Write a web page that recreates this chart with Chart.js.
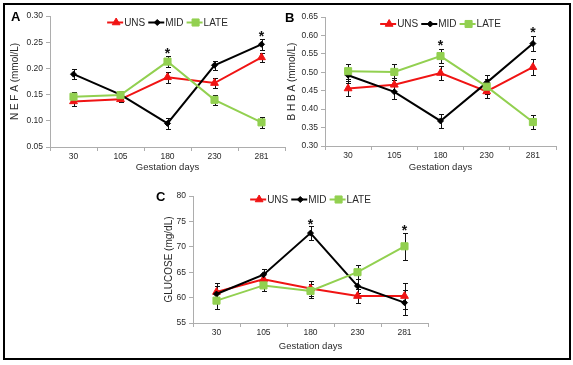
<!DOCTYPE html>
<html>
<head>
<meta charset="utf-8">
<script src="https://cdn.jsdelivr.net/npm/chart.js@4/dist/chart.umd.min.js"></script>
<style>
html, body { margin: 0; padding: 0; background: #fff; }
body { width: 573px; height: 365px; position: relative; overflow: hidden; font-family: "Liberation Sans", Arial, sans-serif; }
canvas { position: absolute; left: 0; top: 0; }
#frame { position: absolute; left: 3px; top: 3px; width: 564px; height: 353px; border: 2px solid #000; }
.tag { position: absolute; font-weight: bold; font-size: 13px; line-height: 13px; color: #000; }
</style>
</head>
<body>
<div id="frame"></div>
<canvas id="cA" width="573" height="365"></canvas>
<canvas id="cB" width="573" height="365"></canvas>
<canvas id="cC" width="573" height="365"></canvas>
<div class="tag" style="left:11px;top:10px">A</div>
<div class="tag" style="left:285px;top:11px">B</div>
<div class="tag" style="left:156px;top:190px">C</div>
<script>
var days = ["30", "105", "180", "230", "281"];

// NEFA (mmol/L)
var nefaUNS = [0.137, 0.141, 0.183, 0.172, 0.221];
var nefaMID = [0.189, 0.150, 0.095, 0.206, 0.246];
var nefaLATE = [0.146, 0.149, 0.213, 0.140, 0.097];
var nefaErrUNS = [0.009, 0.006, 0.010, 0.010, 0.008];
var nefaErrMID = [0.009, 0.007, 0.010, 0.009, 0.010];
var nefaErrLATE = [0.009, 0.007, 0.010, 0.010, 0.010];
var nefaStars = [null, null, 0.235, null, 0.268];
var nefaTicks = [0.05, 0.10, 0.15, 0.20, 0.25, 0.30];

// BHBA (mmol/L)
var bhbaUNS = [0.456, 0.466, 0.498, 0.448, 0.514];
var bhbaMID = [0.492, 0.447, 0.368, 0.472, 0.578];
var bhbaLATE = [0.503, 0.501, 0.544, 0.461, 0.365];
var bhbaErrUNS = [0.019, 0.018, 0.020, 0.018, 0.021];
var bhbaErrMID = [0.020, 0.020, 0.020, 0.020, 0.020];
var bhbaErrLATE = [0.020, 0.021, 0.019, 0.020, 0.020];
var bhbaStars = [null, null, 0.582, null, 0.618];
var bhbaTicks = [0.30, 0.35, 0.40, 0.45, 0.50, 0.55, 0.60, 0.65];

// Glucose (mg/dL)
var gluUNS = [61.1, 63.6, 61.8, 60.3, 60.3];
var gluMID = [60.7, 64.5, 72.7, 62.3, 59.0];
var gluLATE = [59.4, 62.4, 61.3, 65.0, 70.1];
var gluErrUNS = [1.7, 1.2, 1.5, 1.3, 2.6];
var gluErrMID = [1.6, 1.1, 1.3, 1.3, 2.5];
var gluErrLATE = [1.7, 1.1, 1.3, 1.4, 2.7];
var gluStars = [null, null, 75.0, null, 73.85];
var gluTicks = [55, 60, 65, 70, 75, 80];

var FONT = '"Liberation Sans", Arial, sans-serif';
var AXIS = "#adadad";
var TEXT = "#2a2a2a";
Chart.defaults.font.family = FONT;

function drawMarker(ctx, ds, x, y) {
    ctx.fillStyle = ds.pointBackgroundColor;
    ctx.strokeStyle = ds.pointBorderColor;
    ctx.lineWidth = 1;
    Chart.helpers.drawPoint(ctx, { pointStyle: ds.pointStyle, radius: ds.pointRadius, borderWidth: 1 }, x, y);
}

var errorBars = {
    id: "errorBars",
    beforeDatasetsDraw: function (chart) {
        var ctx = chart.ctx, ys = chart.scales.y;
        ctx.save();
        ctx.strokeStyle = "#111";
        ctx.lineWidth = 1;
        chart.data.datasets.forEach(function (ds, i) {
            chart.getDatasetMeta(i).data.forEach(function (pt, j) {
                var v = ds.data[j], e = ds.errors[j];
                var x = Math.round(pt.x) + 0.5;
                var y1 = Math.round(ys.getPixelForValue(v + e)) + 0.5;
                var y2 = Math.round(ys.getPixelForValue(v - e)) + 0.5;
                ctx.beginPath();
                ctx.moveTo(x, y1); ctx.lineTo(x, y2);
                ctx.moveTo(x - 2.5, y1); ctx.lineTo(x + 2.5, y1);
                ctx.moveTo(x - 2.5, y2); ctx.lineTo(x + 2.5, y2);
                ctx.stroke();
            });
        });
        ctx.restore();
    }
};

var stars = {
    id: "stars",
    afterDatasetsDraw: function (chart, args, opts) {
        var ctx = chart.ctx, xs = chart.scales.x, ys = chart.scales.y;
        ctx.save();
        ctx.fillStyle = "#111";
        ctx.font = "bold 14px " + FONT;
        ctx.textAlign = "center";
        ctx.textBaseline = "alphabetic";
        opts.values.forEach(function (v, j) {
            if (v === null) return;
            ctx.fillText("*", xs.getPixelForValue(j), ys.getPixelForValue(v) + 8);
        });
        ctx.restore();
    }
};

var lineLegend = {
    id: "lineLegend",
    afterDraw: function (chart, args, opts) {
        var ctx = chart.ctx, area = chart.chartArea;
        var seg = 16, gap = 1, sep = 3;
        ctx.save();
        ctx.font = "10px " + FONT;
        var items = chart.data.datasets.map(function (ds) {
            return { ds: ds, w: ctx.measureText(ds.label).width };
        });
        var total = sep * (items.length - 1);
        items.forEach(function (it) { total += seg + gap + it.w; });
        var x = (area.left + area.right) / 2 - total / 2;
        var y = area.top + opts.dy;
        items.forEach(function (it) {
            ctx.strokeStyle = it.ds.borderColor;
            ctx.lineWidth = 2;
            ctx.beginPath();
            ctx.moveTo(x, y); ctx.lineTo(x + seg, y);
            ctx.stroke();
            drawMarker(ctx, it.ds, x + seg / 2 + 1, y);
            ctx.fillStyle = TEXT;
            ctx.textAlign = "left";
            ctx.textBaseline = "middle";
            ctx.fillText(it.ds.label, x + seg + gap, y + 0.5);
            x += seg + gap + it.w + sep;
        });
        ctx.restore();
    }
};

function series(label, data, errors, color, style, radius, order) {
    return {
        label: label,
        data: data,
        errors: errors,
        borderColor: color,
        backgroundColor: color,
        pointBackgroundColor: color,
        pointBorderColor: color,
        pointStyle: style,
        pointRadius: radius,
        pointBorderWidth: 1,
        borderWidth: 2,
        tension: 0,
        fill: false,
        order: order
    };
}

function makeChart(id, c) {
    var a = c.area;
    return new Chart(document.getElementById(id), {
        type: "line",
        data: {
            labels: days,
            datasets: [
                series("UNS", c.uns, c.unsErr, "#f01414", "triangle", 4.5, 2),
                series("MID", c.mid, c.midErr, "#000000", "rectRot", 3, 1),
                series("LATE", c.late, c.lateErr, "#92d050", "rect", 5, 0)
            ]
        },
        options: {
            responsive: false,
            animation: false,
            events: [],
            layout: {
                padding: { left: a.l - c.yw, top: a.t, right: 573 - a.r, bottom: 365 - a.b - c.xh }
            },
            plugins: {
                legend: { display: false },
                tooltip: { enabled: false },
                stars: { values: c.stars },
                lineLegend: { dy: c.legendDy }
            },
            scales: {
                x: {
                    type: "category",
                    offset: true,
                    afterFit: function (s) { s.height = c.xh; },
                    grid: { offset: true, drawOnChartArea: false, tickLength: 4, color: AXIS },
                    border: { color: AXIS },
                    ticks: { font: { size: 8.5 }, color: TEXT, padding: 1, maxRotation: 0, autoSkip: false },
                    title: {
                        display: true,
                        text: "Gestation days",
                        color: TEXT,
                        font: { size: 9.5 },
                        padding: { top: 0, bottom: c.xtPad }
                    }
                },
                y: {
                    min: c.ticks[0],
                    max: c.ticks[c.ticks.length - 1],
                    afterFit: function (s) { s.width = c.yw; },
                    afterBuildTicks: function (s) {
                        s.ticks = c.ticks.map(function (v) { return { value: v }; });
                    },
                    grid: { drawOnChartArea: false, tickLength: 4, color: AXIS },
                    border: { color: AXIS },
                    ticks: {
                        font: { size: 8.5 },
                        color: TEXT,
                        padding: 3,
                        callback: function (v) { return Number(v).toFixed(c.dec); }
                    },
                    title: {
                        display: true,
                        text: c.ytitle,
                        color: TEXT,
                        font: { size: 10 },
                        padding: { top: c.ytPad, bottom: 0 }
                    }
                }
            }
        },
        plugins: [errorBars, stars, lineLegend]
    });
}

makeChart("cA", {
    area: { l: 50, t: 16, r: 285, b: 147 }, yw: 50, xh: 33, xtPad: 7.3, ytPad: 9,
    uns: nefaUNS, mid: nefaMID, late: nefaLATE,
    unsErr: nefaErrUNS, midErr: nefaErrMID, lateErr: nefaErrLATE,
    stars: nefaStars, ticks: nefaTicks, dec: 2, legendDy: 6.5,
    ytitle: "N E F A (mmol/L)"
});

makeChart("cB", {
    area: { l: 325, t: 17, r: 556, b: 146 }, yw: 45, xh: 33, xtPad: 5.6, ytPad: 6,
    uns: bhbaUNS, mid: bhbaMID, late: bhbaLATE,
    unsErr: bhbaErrUNS, midErr: bhbaErrMID, lateErr: bhbaErrLATE,
    stars: bhbaStars, ticks: bhbaTicks, dec: 2, legendDy: 7,
    ytitle: "B H B A (mmol/L)"
});

makeChart("cC", {
    area: { l: 193, t: 196, r: 428, b: 323 }, yw: 45, xh: 33, xtPad: 4.3, ytPad: 15,
    uns: gluUNS, mid: gluMID, late: gluLATE,
    unsErr: gluErrUNS, midErr: gluErrMID, lateErr: gluErrLATE,
    stars: gluStars, ticks: gluTicks, dec: 0, legendDy: 3.5,
    ytitle: "GLUCOSE (mg/dL)"
});
</script>
</body>
</html>
